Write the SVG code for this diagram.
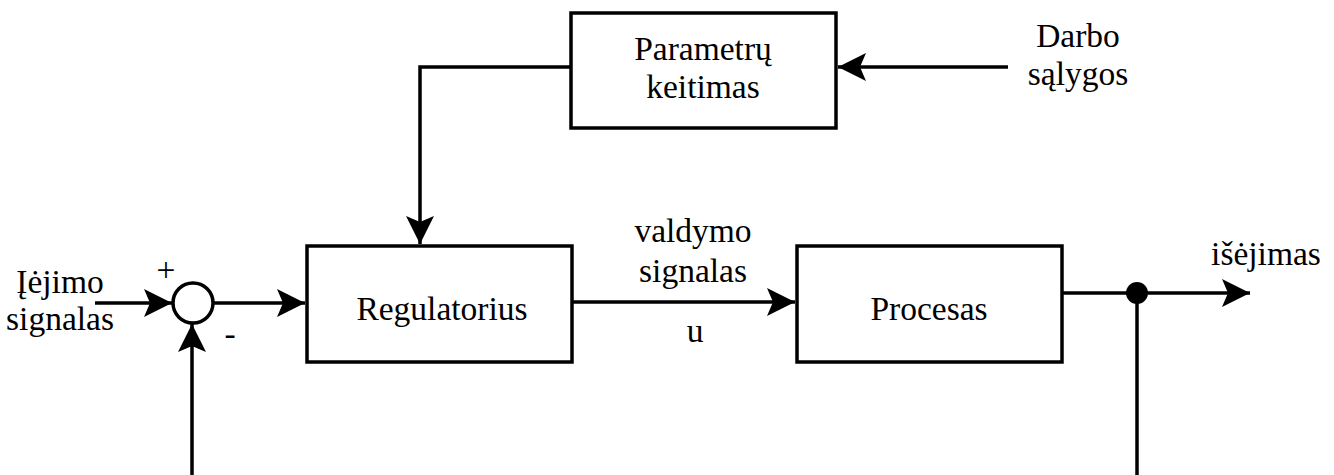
<svg xmlns="http://www.w3.org/2000/svg" width="1334" height="475" viewBox="0 0 1334 475">
<style>
.box{fill:#fff;stroke:#000;stroke-width:3.5}
.ln{fill:none;stroke:#000;stroke-width:3.5}
.t{font-family:'Liberation Serif','Times New Roman',serif;font-size:33.5px;fill:#000;text-anchor:middle}
</style>
<defs>
<marker id="arr" markerWidth="28" markerHeight="28" viewBox="0 0 28 28" refX="28" refY="14" orient="auto" markerUnits="userSpaceOnUse">
<path d="M0,0 L28,14 L0,28 L6,14 Z" fill="#000"/>
</marker>
</defs>
<rect width="1334" height="475" fill="#fff"/>
<g id="connectors">
<line class="ln" x1="1008" y1="67" x2="838" y2="67" marker-end="url(#arr)"/>
<polyline class="ln" points="571,67 420,67 420,244" marker-end="url(#arr)"/>
<line class="ln" x1="95" y1="303" x2="172" y2="303" marker-end="url(#arr)"/>
<line class="ln" x1="213" y1="303" x2="305" y2="303" marker-end="url(#arr)"/>
<line class="ln" x1="192" y1="475" x2="192" y2="324" marker-end="url(#arr)"/>
<line class="ln" x1="572" y1="302" x2="795" y2="302" marker-end="url(#arr)"/>
<line class="ln" x1="1062" y1="293" x2="1250" y2="293" marker-end="url(#arr)"/>
<line class="ln" x1="1137" y1="293" x2="1137" y2="475"/>
<circle cx="1137" cy="293" r="11" fill="#000"/>
</g>
<g id="param">
<rect class="box" x="571" y="13" width="265" height="115"/>
<text class="t" x="703" y="60">Parametrų</text>
<text class="t" x="703" y="98">keitimas</text>
</g>
<g id="darbo">
<text class="t" x="1078" y="47">Darbo</text>
<text class="t" x="1078" y="85">sąlygos</text>
</g>
<g id="sum">
<circle cx="193" cy="303" r="20" fill="#fff" stroke="#000" stroke-width="3.5"/>
<text class="t" x="166" y="281" font-size="26">+</text>
<text class="t" x="230" y="345" font-size="28">-</text>
</g>
<g id="input">
<text class="t" x="60" y="293">Įėjimo</text>
<text class="t" x="60" y="330">signalas</text>
</g>
<g id="regulator">
<rect class="box" x="307" y="246" width="265" height="116"/>
<text class="t" x="442" y="320">Regulatorius</text>
</g>
<g id="signal">
<text class="t" x="693" y="242">valdymo</text>
<text class="t" x="693" y="282">signalas</text>
<text class="t" x="695" y="342">u</text>
</g>
<g id="process">
<rect class="box" x="797" y="246" width="265" height="116"/>
<text class="t" x="929" y="320">Procesas</text>
</g>
<g id="output">
<text class="t" x="1266" y="265">išėjimas</text>
</g>
</svg>
